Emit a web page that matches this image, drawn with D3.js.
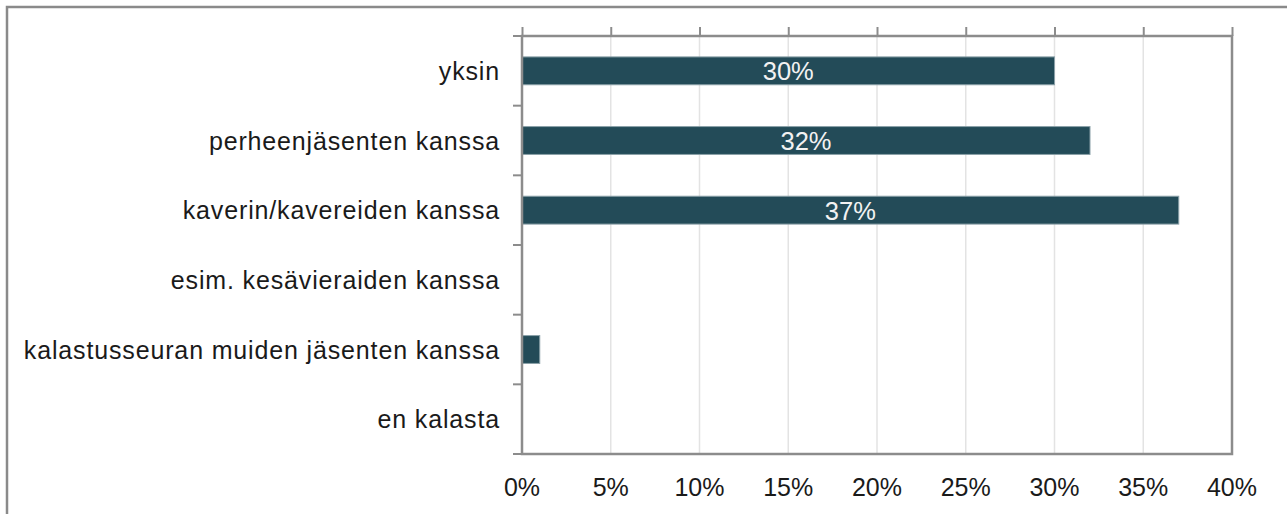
<!DOCTYPE html>
<html>
<head>
<meta charset="utf-8">
<script src="https://cdn.jsdelivr.net/npm/d3@7"></script>
<style>
  html, body { margin: 0; padding: 0; background: #fff; }
  svg { display: block; font-family: "Liberation Sans", Arial, sans-serif; }
</style>
</head>
<body>
<svg id="chart" width="1287" height="514"></svg>
<script>
const categories = [
  "yksin",
  "perheenjäsenten kanssa",
  "kaverin/kavereiden kanssa",
  "esim. kesävieraiden kanssa",
  "kalastusseuran muiden jäsenten kanssa",
  "en kalasta"
];
const values = [30, 32, 37, 0, 1, 0];
const tickValues = [0, 5, 10, 15, 20, 25, 30, 35, 40];
const tickLabels = ["0%", "5%", "10%", "15%", "20%", "25%", "30%", "35%", "40%"];
const valueLabels = ["30%", "32%", "37%", "", "", ""];

const svg = d3.select("#chart");
const plotLeft = 522, plotRight = 1232, plotTop = 36, plotBottom = 454;

// outer frame
svg.append("rect")
  .attr("x", 7).attr("y", 7).attr("width", 1300).attr("height", 520)
  .attr("fill", "none").attr("stroke", "#8a8a8a").attr("stroke-width", 2.5);

const x = d3.scaleLinear().domain([0, 40]).range([plotLeft, plotRight]);
const y = d3.scaleBand().domain(categories).range([plotTop, plotBottom])
  .paddingInner(0.6).paddingOuter(0.3);

// gridlines
svg.append("g").selectAll("line").data(tickValues.slice(1, -1)).join("line")
  .attr("x1", d => x(d)).attr("x2", d => x(d))
  .attr("y1", plotTop).attr("y2", plotBottom)
  .attr("stroke", "#e3e3e3").attr("stroke-width", 1.5);

// bars
svg.append("g").selectAll("rect").data(categories.map((c, i) => ({c, v: values[i]})).filter(d => d.v > 0))
  .join("rect")
  .attr("x", x(0)).attr("y", d => y(d.c))
  .attr("width", d => x(d.v) - x(0)).attr("height", y.bandwidth())
  .attr("fill", "#234b58").attr("stroke", "#8aa0a8").attr("stroke-width", 1);

// value labels
svg.append("g").selectAll("text").data(categories.map((c, i) => ({c, v: values[i], l: valueLabels[i]})).filter(d => d.l))
  .join("text")
  .attr("x", d => (x(0) + x(d.v)) / 2)
  .attr("y", d => y(d.c) + y.bandwidth() / 2 + 9.5)
  .attr("text-anchor", "middle")
  .attr("font-size", "25.5px").attr("fill", "#f2f2f2")
  .text(d => d.l);

// plot frame
svg.append("rect")
  .attr("x", plotLeft).attr("y", plotTop).attr("width", plotRight - plotLeft).attr("height", plotBottom - plotTop)
  .attr("fill", "none").attr("stroke", "#8c8c8c").attr("stroke-width", 2.5);

// top axis ticks
const xAxis = d3.axisTop(x).tickValues(tickValues).tickSize(9).tickFormat("");
const gx = svg.append("g").attr("transform", `translate(0,${plotTop})`).call(xAxis);
gx.select(".domain").remove();
gx.selectAll("line").attr("stroke", "#8c8c8c").attr("stroke-width", 2);

// bottom tick labels
svg.append("g").selectAll("text").data(tickValues).join("text")
  .attr("x", d => x(d)).attr("y", 496)
  .attr("text-anchor", "middle")
  .attr("font-size", "25px").attr("fill", "#1a1a1a")
  .text((d, i) => tickLabels[i]);

// left ticks at category boundaries
const boundaries = d3.range(categories.length + 1).map(i => plotTop + i * y.step());
svg.append("g").selectAll("line").data(boundaries).join("line")
  .attr("x1", plotLeft - 9).attr("x2", plotLeft)
  .attr("y1", d => d).attr("y2", d => d)
  .attr("stroke", "#8c8c8c").attr("stroke-width", 2);

// category labels
svg.append("g").selectAll("text").data(categories).join("text")
  .attr("x", 500)
  .attr("y", d => y(d) + y.bandwidth() / 2 + 9)
  .attr("text-anchor", "end")
  .attr("font-size", "25px").attr("letter-spacing", "0.85px").attr("fill", "#1a1a1a")
  .text(d => d);
</script>
</body>
</html>
